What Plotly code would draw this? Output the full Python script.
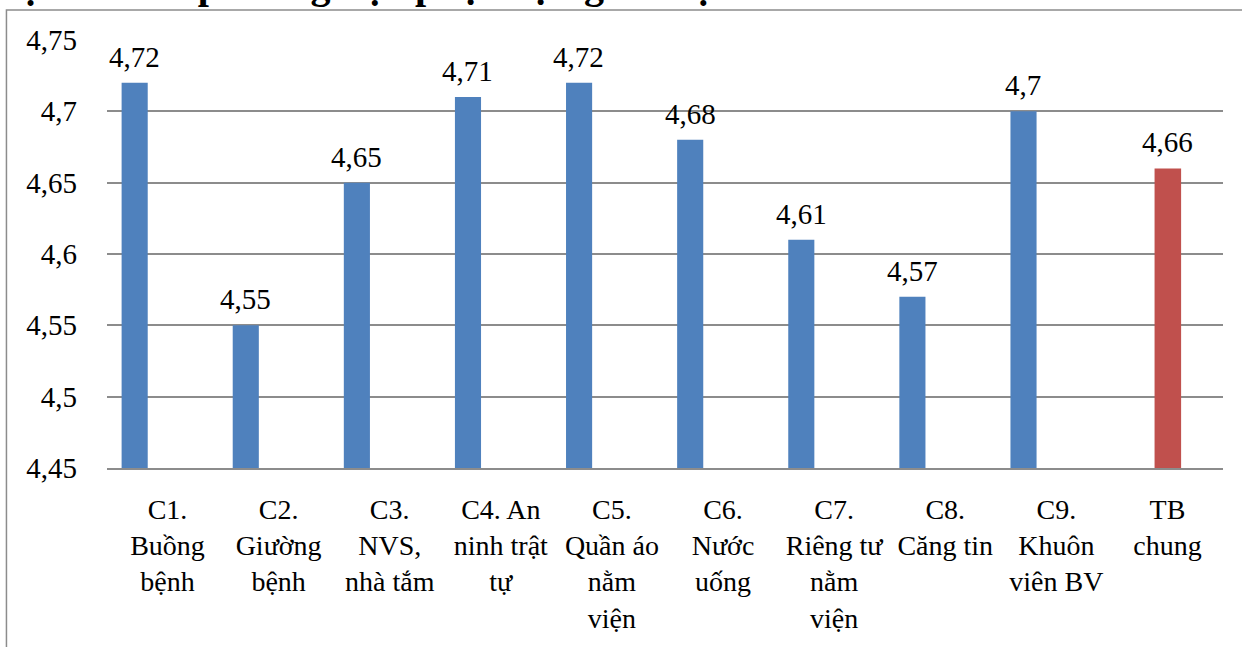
import plotly.graph_objects as go

# Mean satisfaction scores per facility item (C1..C9) and overall mean
categories = [
    "C1.<br>Buồng<br>bệnh",
    "C2.<br>Giường<br>bệnh",
    "C3.<br>NVS,<br>nhà tắm",
    "C4. An<br>ninh trật<br>tự",
    "C5.<br>Quần áo<br>nằm<br>viện",
    "C6.<br>Nước<br>uống",
    "C7.<br>Riêng tư<br>nằm<br>viện",
    "C8.<br>Căng tin",
    "C9.<br>Khuôn<br>viên BV",
    "TB<br>chung",
]
item_scores = [4.72, 4.55, 4.65, 4.71, 4.72, 4.68, 4.61, 4.57, 4.70]
overall_score = [4.66]

tick_values = [4.45, 4.50, 4.55, 4.60, 4.65, 4.70, 4.75]
tick_labels = ["4,45", "4,5", "4,55", "4,6", "4,65", "4,7", "4,75"]

title_text = "vật chất và phương tiện phục vụ người bệnh"

BLUE = "#4F81BD"
RED = "#C0504D"
GRID = "#8C8C8C"
FONT = "Liberation Serif"
VALUE_FONT = dict(family=FONT, size=29, color="#000000")
CAT_FONT = dict(family=FONT, size=28, color="#000000")


def fmt(v):
    return f"{v:.2f}".rstrip("0").rstrip(".").replace(".", ",")


fig = go.Figure()

fig.add_trace(go.Bar(
    x=categories[:9], y=item_scores,
    marker=dict(color=BLUE, line=dict(width=0)),
    width=0.235, offset=-0.413,
    hoverinfo="skip",
))
fig.add_trace(go.Bar(
    x=categories[9:], y=overall_score,
    marker=dict(color=RED, line=dict(width=0)),
    width=0.239, offset=-0.116,
    hoverinfo="skip",
))

# Value labels above each bar
for cat, v in zip(categories[:9], item_scores):
    fig.add_annotation(
        x=cat, y=v, text=fmt(v), showarrow=False,
        yanchor="bottom", xanchor="center", xshift=-33, yshift=8,
        font=VALUE_FONT,
    )
for cat, v in zip(categories[9:], overall_score):
    fig.add_annotation(
        x=cat, y=v, text=fmt(v), showarrow=False,
        yanchor="bottom", xanchor="center", yshift=8,
        font=VALUE_FONT,
    )

# Caption line above the chart box
fig.add_annotation(
    x=0, y=1.0935, xref="paper", yref="paper", text="<b>" + title_text + "</b>",
    showarrow=False, xanchor="left", yanchor="bottom", yshift=-9,
    xshift=-108,
    font=dict(family=FONT, size=40, color="#000000"),
)

fig.update_layout(
    width=1242, height=647,
    margin=dict(l=107, r=19, t=40, b=179),
    paper_bgcolor="white", plot_bgcolor="white",
    barmode="overlay",
    showlegend=False,
    separators=",.",
)
fig.add_shape(
    type="rect", xref="paper", yref="paper",
    x0=-0.0901, x1=1.2, y0=-0.6, y1=1.0703,
    line=dict(color=GRID, width=1.5), layer="below",
)

fig.update_xaxes(
    type="category", categoryorder="array", categoryarray=categories,
    showgrid=False, showline=True, linecolor=GRID, linewidth=2,
    ticks="", ticklabelstandoff=15,
    tickfont=CAT_FONT,
)
fig.update_yaxes(
    range=[4.45, 4.75], tickvals=tick_values, ticktext=tick_labels,
    showgrid=True, gridcolor=GRID, gridwidth=2,
    zeroline=False, showline=False, ticks="", ticklabelstandoff=29,
    tickfont=VALUE_FONT,
)

fig.write_html("out.html")
